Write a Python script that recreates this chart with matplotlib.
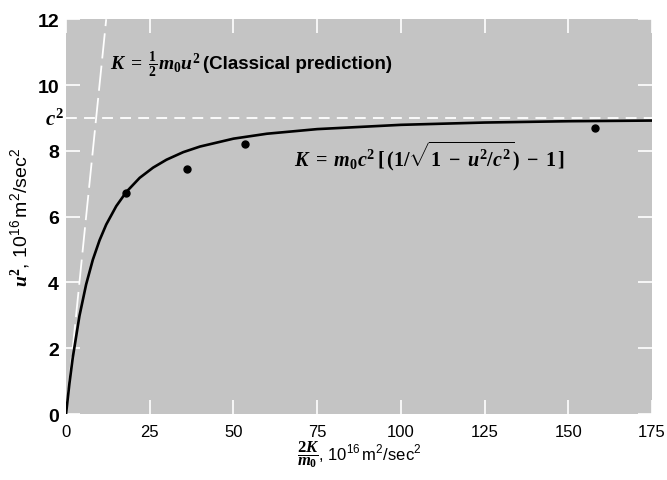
import matplotlib
matplotlib.use("Agg")
import matplotlib.pyplot as plt

plt.rcParams['mathtext.fontset'] = 'custom'
plt.rcParams['mathtext.it'] = 'Liberation Serif:italic:bold'
plt.rcParams['mathtext.rm'] = 'Liberation Serif:bold'
plt.rcParams['mathtext.bf'] = 'Liberation Serif:bold'
plt.rcParams['mathtext.sf'] = 'Liberation Sans'
plt.rcParams['font.family'] = ['Liberation Sans', 'DejaVu Sans']

# Relativistic curve
curve_x = [0, 1, 2, 4, 6, 8, 10, 12, 15, 18, 22, 26, 30, 35, 40, 50, 60, 75, 100, 125, 150, 175]
curve_u2 = [0, 0.92, 1.71, 2.98, 3.94, 4.69, 5.28, 5.76, 6.32, 6.75, 7.18, 7.49, 7.73, 7.96,
            8.13, 8.37, 8.52, 8.66, 8.79, 8.86, 8.90, 8.92]

# Classical prediction (u^2 = 2K/m0)
classical_x = [0, 12]
classical_u2 = [0, 12]

# Measured points
meas_x = [17.9, 36.0, 53.5, 158.0]
meas_u2 = [6.72, 7.45, 8.2, 8.68]

c2 = 9
x_ticks = [0, 25, 50, 75, 100, 125, 150, 175]
y_ticks = [0, 2, 4, 6, 8, 10, 12]

fig = plt.figure(figsize=(6.67, 4.81), dpi=100)
ax = fig.add_axes([0.099, 0.137, 0.8785, 0.821])
ax.set_facecolor('#c4c4c4')
for s in ax.spines.values():
    s.set_visible(False)

ax.plot(classical_x, classical_u2, color='white', lw=1.3, dashes=(14, 4))
ax.axhline(c2, color='white', lw=1.3, dashes=(6, 4))
ax.plot(curve_x, curve_u2, color='black', lw=1.9, solid_capstyle='round')
ax.plot(meas_x, meas_u2, 'o', color='black', ms=5)

ax.set_xlim(0, 175)
ax.set_ylim(0, 12)
ax.set_xticks(x_ticks)
ax.set_yticks(y_ticks)
ax.tick_params(axis='both', direction='in', color='white', length=10, width=1.2,
               top=True, right=True)
ax.tick_params(axis='x', labelsize=12, pad=7)
ax.tick_params(axis='y', labelsize=14, pad=5)
for lab in ax.get_yticklabels():
    lab.set_fontweight('bold')

ax.text(-0.8, 9, r'$c^2$', fontsize=15, ha='right', va='center')

t1 = ax.text(13, 10.65, r'$K\;=\;\frac{1}{2}m_0u^2$', fontsize=14, va='center')
fig.canvas.draw()
bb = t1.get_window_extent()
x_end = ax.transData.inverted().transform((bb.x1, bb.y0))[0]
ax.text(x_end + 0.8, 10.65, '(Classical prediction)', fontsize=13.5, fontweight='bold', va='center')

ax.text(68, 7.85, r'$K\;=\;m_0c^2\,[\,(1/\sqrt{1\;-\;u^2/c^2})\;-\;1\,]$', fontsize=14.5, va='center')

ax.set_xlabel(r'$\dfrac{2K}{m_0}$, $\mathsf{10^{16}\,m^2/sec^2}$', fontsize=12, labelpad=0)
ax.set_ylabel(r'$u^2$, $\mathsf{10^{16}\,m^2/sec^2}$', fontsize=14, labelpad=4)

fig.savefig('out.png', dpi=100)
